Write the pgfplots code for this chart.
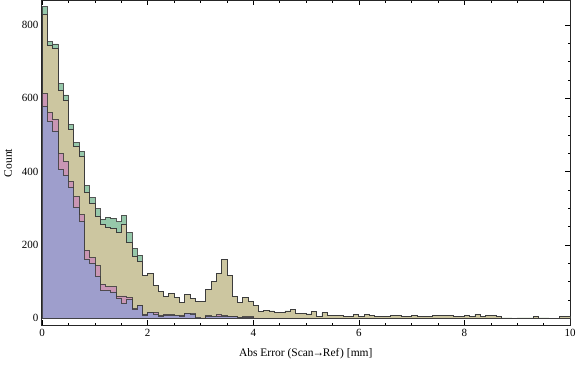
\documentclass[border=0pt]{standalone}
\usepackage{fontspec}
\setmainfont{Liberation Serif}
\usepackage{pgfplots}
\pgfplotsset{compat=1.18}
\definecolor{cgreen}{RGB}{150,200,170}
\definecolor{colive}{RGB}{204,198,160}
\definecolor{cpink}{RGB}{202,150,180}
\definecolor{cblue}{RGB}{158,158,204}
\definecolor{cedge}{RGB}{60,60,60}
\begin{document}
\begin{tikzpicture}
\begin{axis}[
  scale only axis,
  width=528.5pt, height=325pt,
  xmin=-0.013, xmax=10,
  ymin=-19.6, ymax=866.6,
  xtick={0,2,...,10}, minor x tick num=3,
  ytick={0,200,...,800}, minor y tick num=3,
  tick align=inside,
  major tick length=5pt, minor tick length=2.5pt,
  every tick/.style={black, line width=0.5pt},
  axis line style={black!85, line width=0.6pt},
  /pgf/number format/assume math mode=true,
  ticklabel style={font=\fontsize{11}{13}\selectfont},
  yticklabel style={xshift=0.5pt},
  xlabel={Abs Error (Scan\kern-1.2pt→\kern-1.2pt Ref\kern0.8pt) [mm]},
  ylabel={Count},
  label style={font=\fontsize{11.5}{13}\selectfont},
  xlabel style={yshift=-5pt},
  ylabel style={yshift=3pt},
  clip=true,
]
% green
\addplot[const plot, fill=cgreen, draw=cedge, draw opacity=0.85, line width=0.8pt] coordinates {
(0,850) (0.1,754) (0.2,748) (0.3,640) (0.4,609) (0.5,528) (0.6,479) (0.7,455) (0.8,362) (0.9,329)
(1.0,299) (1.1,270) (1.2,276) (1.3,273) (1.4,263) (1.5,281) (1.6,234) (1.7,190) (1.8,172) (1.9,117)
(2.0,122) (2.1,90) (2.2,73) (2.3,59) (2.4,67) (2.5,58) (2.6,43) (2.7,65) (2.8,54) (2.9,47)
(3.0,45) (3.1,78) (3.2,101) (3.3,123) (3.4,160) (3.5,117) (3.6,59) (3.7,43) (3.8,56) (3.9,45)
(4.0,34) (4.1,19) (4.2,22) (4.3,20) (4.4,17) (4.5,17) (4.6,20) (4.7,24) (4.8,14) (4.9,14)
(5.0,12) (5.1,18) (5.2,5) (5.3,15) (5.4,8) (5.5,8) (5.6,8) (5.7,5) (5.8,5) (5.9,10)
(6.0,4) (6.1,10) (6.2,7) (6.3,5) (6.4,5) (6.5,5) (6.6,7) (6.7,7) (6.8,5) (6.9,5)
(7.0,8) (7.1,5) (7.2,5) (7.3,4) (7.4,7) (7.5,8) (7.6,7) (7.7,8) (7.8,5) (7.9,5)
(8.0,7) (8.1,5) (8.2,11) (8.3,5) (8.4,8) (8.5,7) (8.6,5) (8.7,1) (8.8,1) (8.9,0)
(9.0,1) (9.1,1) (9.2,1) (9.3,5) (9.4,1) (9.5,1) (9.6,0) (9.7,0) (9.8,5) (9.9,5) (10,5)
} \closedcycle;
% olive
\addplot[const plot, fill=colive, draw=cedge, line width=0.8pt] coordinates {
(0,829) (0.1,744) (0.2,736) (0.3,622) (0.4,594) (0.5,514) (0.6,468) (0.7,442) (0.8,343) (0.9,312)
(1.0,279) (1.1,255) (1.2,249) (1.3,245) (1.4,234) (1.5,256) (1.6,208) (1.7,170) (1.8,154) (1.9,117)
(2.0,122) (2.1,90) (2.2,73) (2.3,59) (2.4,67) (2.5,58) (2.6,43) (2.7,65) (2.8,54) (2.9,47)
(3.0,45) (3.1,78) (3.2,101) (3.3,123) (3.4,160) (3.5,117) (3.6,59) (3.7,43) (3.8,56) (3.9,45)
(4.0,34) (4.1,19) (4.2,22) (4.3,20) (4.4,17) (4.5,17) (4.6,20) (4.7,24) (4.8,14) (4.9,14)
(5.0,12) (5.1,18) (5.2,5) (5.3,15) (5.4,8) (5.5,8) (5.6,8) (5.7,5) (5.8,5) (5.9,10)
(6.0,4) (6.1,10) (6.2,7) (6.3,5) (6.4,5) (6.5,5) (6.6,7) (6.7,7) (6.8,5) (6.9,5)
(7.0,8) (7.1,5) (7.2,5) (7.3,4) (7.4,7) (7.5,8) (7.6,7) (7.7,8) (7.8,5) (7.9,5)
(8.0,7) (8.1,5) (8.2,11) (8.3,5) (8.4,8) (8.5,7) (8.6,5) (8.7,1) (8.8,1) (8.9,0)
(9.0,1) (9.1,1) (9.2,1) (9.3,5) (9.4,1) (9.5,1) (9.6,0) (9.7,0) (9.8,5) (9.9,5) (10,5)
} \closedcycle;
% pink
\addplot[const plot, fill=cpink, draw=cedge, draw opacity=0.85, line width=0.8pt] coordinates {
(0,613) (0.1,561) (0.2,543) (0.3,450) (0.4,428) (0.5,374) (0.6,332) (0.7,282) (0.8,185) (0.9,165)
(1.0,143) (1.1,93) (1.2,86) (1.3,86) (1.4,61) (1.5,61) (1.6,58) (1.7,26) (1.8,36) (1.9,11)
(2.0,17) (2.1,15) (2.2,8) (2.3,11) (2.4,10) (2.5,9) (2.6,8) (2.7,14) (2.8,13) (2.9,2)
(3.0,1) (3.1,7) (3.2,6) (3.3,10) (3.4,8) (3.5,6) (3.6,5) (3.7,3) (3.8,4) (3.9,4)
(4.0,1) (4.1,0) (10,0)
} \closedcycle;
% blue
\addplot[const plot, fill=cblue, draw=cedge, draw opacity=0.85, line width=0.8pt] coordinates {
(0,577) (0.1,536) (0.2,511) (0.3,406) (0.4,389) (0.5,356) (0.6,302) (0.7,264) (0.8,161) (0.9,150)
(1.0,115) (1.1,75) (1.2,75) (1.3,72) (1.4,54) (1.5,41) (1.6,52) (1.7,24) (1.8,34) (1.9,9)
(2.0,15) (2.1,12) (2.2,6) (2.3,8) (2.4,8) (2.5,8) (2.6,6) (2.7,13) (2.8,12) (2.9,1)
(3.0,0) (3.1,5) (3.2,5) (3.3,6) (3.4,6) (3.5,4) (3.6,4) (3.7,2) (3.8,2) (3.9,2)
(4.0,0) (10,0)
} \closedcycle;
\end{axis}
\pgfresetboundingbox
\path[use as bounding box] ([shift={(-41.5pt,-40.5pt)}]current axis.south west) rectangle ([shift={(6pt,0.5pt)}]current axis.north east);
\end{tikzpicture}
\end{document}
